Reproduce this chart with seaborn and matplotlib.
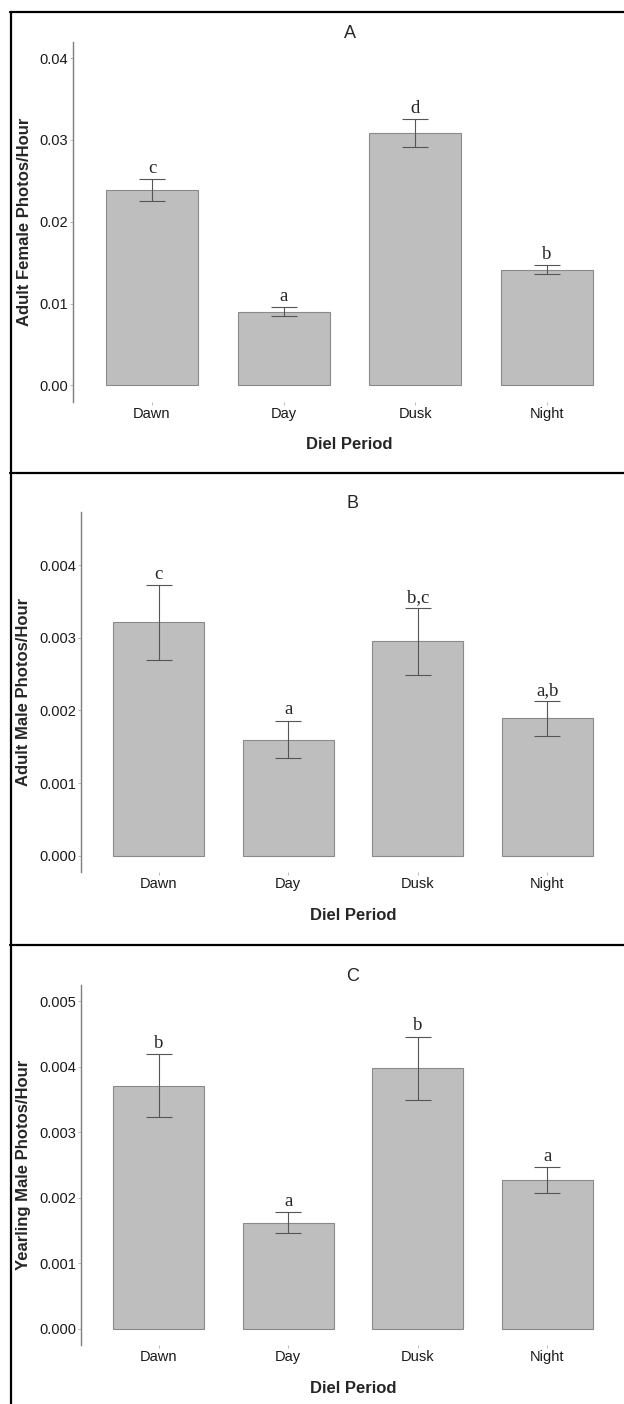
import numpy as np
import pandas as pd
import seaborn as sns
import matplotlib.pyplot as plt
from matplotlib.lines import Line2D

# Data
periods = ["Dawn", "Day", "Dusk", "Night"]

female_mean = [0.0239, 0.0090, 0.03085, 0.0141]
female_se = [0.00134, 0.00058, 0.0017, 0.00055]
female_letters = ["c", "a", "d", "b"]

male_mean = [0.00321, 0.00160, 0.00295, 0.00189]
male_se = [0.00051, 0.00026, 0.00046, 0.00024]
male_letters = ["c", "a", "b,c", "a,b"]

yearling_mean = [0.00371, 0.00162, 0.00398, 0.00227]
yearling_se = [0.00048, 0.00016, 0.00048, 0.00020]
yearling_letters = ["b", "a", "b", "a"]

panels = [
    ("A", "Adult Female Photos/Hour", female_mean, female_se, female_letters,
     [0.00, 0.01, 0.02, 0.03, 0.04], "{:.2f}", (-0.002, 0.042)),
    ("B", "Adult Male Photos/Hour", male_mean, male_se, male_letters,
     [0.000, 0.001, 0.002, 0.003, 0.004], "{:.3f}", (-0.000225, 0.004725)),
    ("C", "Yearling Male Photos/Hour", yearling_mean, yearling_se, yearling_letters,
     [0.000, 0.001, 0.002, 0.003, 0.004, 0.005], "{:.3f}", (-0.00025, 0.00525)),
]

sns.set_style("white")
plt.rcParams["font.family"] = ["Liberation Sans", "DejaVu Sans"]

W, H = 624, 1404
fig = plt.figure(figsize=(W / 100, H / 100), dpi=100)

# axes boxes in pixels: left, top, right, bottom
boxes = [(73, 41.7, 626, 401.7), (81, 512.3, 625, 872.3), (81, 985, 625, 1345)]

for (tag, ylab, means, ses, letters, yticks, fmt, ylim), box in zip(panels, boxes):
    l, t, r, b = box
    ax = fig.add_axes([l / W, 1 - b / H, (r - l) / W, (b - t) / H])
    df = pd.DataFrame({"period": periods, "value": means})
    sns.barplot(data=df, x="period", y="value", ax=ax, color="#bebebe",
                saturation=1, width=0.7, edgecolor="#8a8a8a", linewidth=0.8,
                errorbar=None)
    ax.errorbar(np.arange(len(periods)), means, yerr=ses, fmt="none",
                ecolor="#555555", elinewidth=0.8, capsize=9.2, capthick=0.8)
    for i, (m, s, lab) in enumerate(zip(means, ses, letters)):
        ax.annotate(lab, (i, m + s), xytext=(0, 4.5), textcoords="offset points",
                    ha="center", va="baseline", fontsize=13.5,
                    family=["Liberation Serif", "DejaVu Serif"])
    ax.set_xlim(-0.6, 3.6)
    ax.set_ylim(*ylim)
    ax.set_yticks(yticks)
    ax.set_yticklabels([fmt.format(v) for v in yticks])
    ax.set_title(tag, fontsize=13, pad=3)
    ax.set_xlabel("Diel Period", fontsize=12, fontweight="bold", labelpad=12)
    ax.set_ylabel(ylab, fontsize=12, fontweight="bold", labelpad=5.5)
    ax.tick_params(axis="both", labelsize=10.5, length=2, width=0.6,
                   color="#b0b0b0", pad=1.5, labelcolor="#1a1a1a")
    ax.tick_params(axis="both", which="both", left=True, bottom=True)
    for side in ["top", "right", "bottom"]:
        ax.spines[side].set_visible(False)
    ax.spines["left"].set_color("#7f7f7f")
    ax.spines["left"].set_linewidth(1.0)
    ax.set_facecolor("white")

# panel frame lines
for y in [12, 473, 944.5]:
    fig.add_artist(Line2D([10 / W, 1.0], [1 - y / H, 1 - y / H],
                          transform=fig.transFigure, color="black", linewidth=1.6))
fig.add_artist(Line2D([10.5 / W, 10.5 / W], [0, 1 - 12 / H],
                      transform=fig.transFigure, color="black", linewidth=1.6))

fig.savefig("out.png", dpi=100)
